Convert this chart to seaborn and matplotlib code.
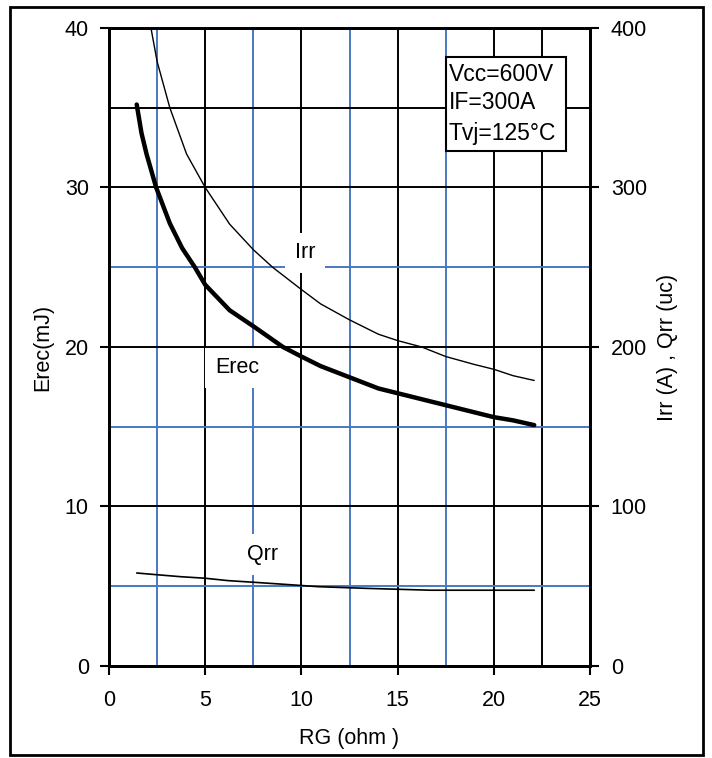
import numpy as np
import pandas as pd
import seaborn as sns
import matplotlib
matplotlib.use("Agg")
import matplotlib.pyplot as plt
from matplotlib.patches import Rectangle

# curves, RG in ohm
rg_erec = [1.44, 1.69, 1.95, 2.45, 3.16, 3.8, 4.46, 5.0, 6.27, 7.5, 9.04, 10.0,
           11.0, 12.5, 14.0, 15.0, 16.0, 17.5, 19.0, 20.0, 21.0, 22.1]
erec_mj = [35.2, 33.4, 32.1, 30.0, 27.75, 26.2, 25.0, 23.9, 22.3, 21.3, 20.0, 19.4,
           18.8, 18.1, 17.4, 17.1, 16.8, 16.35, 15.9, 15.6, 15.4, 15.1]

rg_irr = [2.18, 2.5, 3.16, 4.03, 5.0, 6.27, 7.5, 8.5, 10.0, 11.0, 12.5, 14.0,
          15.0, 16.25, 17.5, 19.0, 20.0, 21.0, 22.1]
irr_a = [400, 379, 350, 321, 300, 277, 261, 250, 236, 227, 217, 208,
         204, 200, 194, 189, 186, 182, 179]

rg_qrr = [1.44, 2.4, 3.7, 5.0, 6.2, 7.5, 9.1, 10.9, 13.3, 16.7, 22.1]
qrr_uc = [58.3, 57.3, 56.0, 55.0, 53.5, 52.5, 51.2, 49.7, 48.7, 47.5, 47.5]

x_ticks = [0, 5, 10, 15, 20, 25]
erec_ticks = [0, 10, 20, 30, 40]
right_ticks = [0, 100, 200, 300, 400]
cond_lines = ["Vcc=600V", "IF=300A", "Tvj=125°C"]


def main():
    sns.set_theme(style="white")
    plt.rcParams['font.family'] = ['Liberation Sans', 'DejaVu Sans']
    plt.rcParams['text.color'] = 'black'
    font = 15.5
    blue = '#4a78c0'

    fig = plt.figure(figsize=(7.12, 7.58), dpi=100)
    ax = fig.add_axes([0.1531, 0.1214, 0.6756, 0.8417])
    ax2 = ax.twinx()

    # grid: black on round values, blue in between (22.5 and 35 are black in the original)
    for xv in [5, 10, 15, 20, 22.5]:
        ax.axvline(xv, color='black', lw=1.4, zorder=1)
    for xv in [2.5, 7.5, 12.5, 17.5]:
        ax.axvline(xv, color=blue, lw=1.4, zorder=1)
    for yv in [10, 20, 30, 35]:
        ax.axhline(yv, color='black', lw=1.4, zorder=1)
    for yv in [5, 15, 25]:
        ax.axhline(yv, color=blue, lw=1.4, zorder=1)

    df_erec = pd.DataFrame({'RG': rg_erec, 'Erec': erec_mj})
    df_irr = pd.DataFrame({'RG': rg_irr, 'Irr': irr_a})
    df_qrr = pd.DataFrame({'RG': rg_qrr, 'Qrr': qrr_uc})

    sns.lineplot(data=df_erec, x='RG', y='Erec', ax=ax, color='black', lw=3.2, zorder=3)
    sns.lineplot(data=df_irr, x='RG', y='Irr', ax=ax2, color='black', lw=1.0)
    sns.lineplot(data=df_qrr, x='RG', y='Qrr', ax=ax2, color='black', lw=1.2)

    ax.set_xlim(0, 25)
    ax.set_ylim(0, 40)
    ax2.set_ylim(0, 400)
    ax.set_xticks(x_ticks)
    ax.set_yticks(erec_ticks)
    ax2.set_yticks(right_ticks)

    ax.tick_params(axis='x', bottom=True, direction='out', length=6.5, width=1.5,
                   pad=11, labelsize=font, colors='black')
    ax.tick_params(axis='y', left=True, right=False, direction='out', length=6.5,
                   width=1.5, pad=8, labelsize=font, colors='black')
    ax2.tick_params(axis='y', right=True, left=False, direction='out', length=6.5,
                    width=1.5, pad=8.5, labelsize=font, colors='black')

    for a in (ax, ax2):
        for s in a.spines.values():
            s.set_color('black')
            s.set_linewidth(2)

    ax.set_xlabel('RG (ohm )', fontsize=font, color='black')
    ax.set_ylabel('Erec(mJ)', fontsize=font, color='black')
    ax2.set_ylabel('Irr (A) , Qrr (uc)', fontsize=font, color='black')
    ax.xaxis.set_label_coords(0.5, -0.097)
    ax.yaxis.set_label_coords(-0.116, 0.5)
    ax2.yaxis.set_label_coords(1.139, 0.5)

    # curve names sit on white patches that hide the grid
    box = dict(boxstyle='square,pad=0.45', fc='white', ec='none')
    ax.text(10.2, 25.9, 'Irr', ha='center', va='center', fontsize=font, color='black',
            bbox=box, zorder=4)
    ax.text(6.65, 18.7, 'Erec', ha='center', va='center', fontsize=font, color='black',
            bbox=box, zorder=4)
    ax.text(8.0, 7.0, 'Qrr', ha='center', va='center', fontsize=font, color='black',
            bbox=box, zorder=4)

    # test conditions box
    ax.add_patch(Rectangle((17.5, 32.3), 6.25, 5.9, fc='white', ec='black', lw=1.5, zorder=4))
    for yv, line in zip([37.1, 35.3, 33.4], cond_lines):
        ax.text(17.67, yv, line, ha='left', va='center', fontsize=16.5, color='black', zorder=5)

    # frame round the whole picture
    fig.add_artist(Rectangle((0.014, 0.004), 0.973, 0.987, transform=fig.transFigure,
                             fill=False, ec='black', lw=2))

    fig.savefig('out.png', dpi=100)


if __name__ == '__main__':
    main()
